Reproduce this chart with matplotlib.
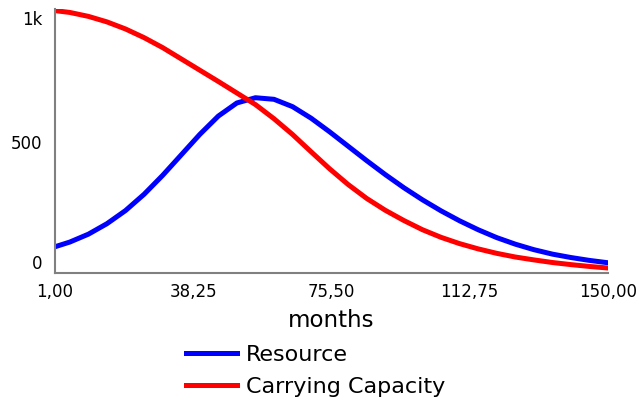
import matplotlib
matplotlib.use("Agg")
import matplotlib.pyplot as plt

months = [1, 5, 10, 15, 20, 25, 30, 35, 40, 45, 50, 55, 60, 65, 70, 75,
          80, 85, 90, 95, 100, 105, 110, 115, 120, 125, 130, 135, 140, 145, 150]
resource = [100, 118, 148, 188, 238, 300, 372, 450, 528, 598, 648, 668, 662, 634, 590, 538,
            483, 428, 375, 325, 279, 237, 199, 165, 135, 110, 89, 72, 59, 48, 39]
capacity = [1000, 993, 978, 957, 930, 897, 859, 816, 773, 730, 686, 642, 588, 528, 462, 397,
            337, 284, 239, 200, 165, 136, 112, 92, 75, 61, 50, 40, 32, 25, 19]

x_ticks = [1.0, 38.25, 75.5, 112.75, 150.0]
x_labels = ["1,00", "38,25", "75,50", "112,75", "150,00"]
y_ticks = [0, 500, 1000]
y_labels = ["0", "500", "1k"]

fig = plt.figure(figsize=(6.43, 4.05), dpi=100)
ax = fig.add_axes([55/643, 1-273/405, (608-55)/643, (273-9.3)/405])

ax.plot(months, resource, color="#0000FF", lw=3.6, label="Resource")
ax.plot(months, capacity, color="#FF0000", lw=3.6, label="Carrying Capacity")

ax.set_xlim(1, 150)
ax.set_ylim(0, 1005)
for s in ["top", "right"]:
    ax.spines[s].set_visible(False)
for s in ["left", "bottom"]:
    ax.spines[s].set_color("#808080")
    ax.spines[s].set_linewidth(1.5)

ax.set_xticks(x_ticks)
ax.set_xticklabels(x_labels, fontsize=12)
ax.set_yticks(y_ticks)
ax.set_yticklabels(y_labels, fontsize=12)
ax.tick_params(axis="x", length=0, pad=7)
ax.tick_params(axis="y", length=0, pad=9)
ylbls = ax.get_yticklabels()
ylbls[0].set_va("bottom")
ylbls[2].set_va("top")

ax.set_xlabel("months", fontsize=16.5, labelpad=6)

fig.legend(loc="upper left", bbox_to_anchor=(186/643, 1-345/405), frameon=False,
           fontsize=16, handlelength=2.3, handletextpad=0.4, labelspacing=0.55,
           borderaxespad=0, borderpad=0)

fig.savefig("out.png", dpi=100)
